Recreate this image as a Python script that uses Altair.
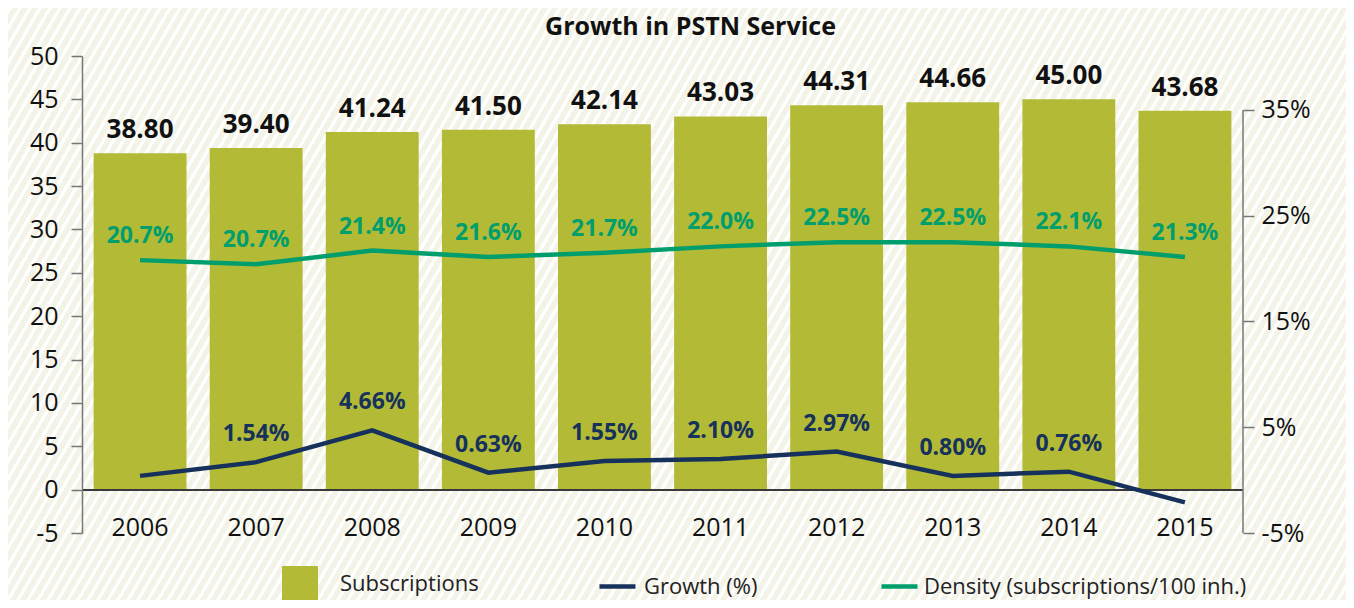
import math
import altair as alt
import pandas as pd

# ---------------- data ----------------
years = ["2006", "2007", "2008", "2009", "2010", "2011", "2012", "2013", "2014", "2015"]
subscriptions = [38.80, 39.40, 41.24, 41.50, 42.14, 43.03, 44.31, 44.66, 45.00, 43.68]
growth_line = [0.4, 1.7, 4.7, 0.7, 1.8, 2.0, 2.7, 0.4, 0.8, -2.1]
growth_labels = [None, 1.54, 4.66, 0.63, 1.55, 2.10, 2.97, 0.80, 0.76, None]
density_line = [20.8, 20.4, 21.7, 21.1, 21.5, 22.1, 22.5, 22.5, 22.1, 21.1]
density_labels = [20.7, 20.7, 21.4, 21.6, 21.7, 22.0, 22.5, 22.5, 22.1, 21.3]
left_ticks = [-5, 0, 5, 10, 15, 20, 25, 30, 35, 40, 45, 50]
right_ticks = [-5, 5, 15, 25, 35]

S_SUB = "Subscriptions"
S_GR = "Growth (%)"
S_DE = "Density (subscriptions/100 inh.)"

# ---------------- styling ----------------
FONT = "Open Sans"
BAR = "#b3ba36"
NAVY = "#16325c"
TEAL = "#009e6d"
AXIS = "#777777"
INK = "#111111"
BG = "#f3f3e8"
STRIPE = "#ffffff"

W, H = 1161, 477
PAD_L, PAD_T, PAD_R, PAD_B = 74, 48, 103, 67
CW, CH = W + PAD_L + PAD_R, H + PAD_T + PAD_B

df = pd.DataFrame({
    "year": years,
    "subs": subscriptions,
    "growth": growth_line,
    "density": density_line,
    "gl": [None if v is None else f"{v:.2f}%" for v in growth_labels],
    "dl": [f"{v:.1f}%" for v in density_labels],
    "s_sub": S_SUB,
    "s_gr": S_GR,
    "s_de": S_DE,
})

# ---------------- diagonal striped background (gradient) ----------------
ratio = math.tan(math.radians(60)) * CW / CH
k = (ratio + 1) / (ratio ** 2 + 1)
gp, gq = ratio * k, k
t_per_px = gp / (gp * gp + gq * gq) / CW
period = 10 * t_per_px
stops = []
o = 0.0
while o < 1.0:
    a = o
    b = min(o + 0.38 * period, 1.0)
    c = min(o + period, 1.0)
    stops += [
        alt.GradientStop(color=STRIPE, offset=a),
        alt.GradientStop(color=STRIPE, offset=b),
        alt.GradientStop(color=BG, offset=b),
        alt.GradientStop(color=BG, offset=c),
    ]
    o += period

bg = alt.Chart(pd.DataFrame({"k": [0]})).mark_rect(
    fill=alt.Gradient(gradient="linear", stops=stops, x1=0, y1=0, x2=gp, y2=gq),
    strokeWidth=0,
).encode(
    x=alt.value(-PAD_L), x2=alt.value(W + PAD_R),
    y=alt.value(-PAD_T), y2=alt.value(H + PAD_B),
)

# ---------------- scales / axes ----------------
x_enc = alt.X(
    "year:N",
    sort=years,
    scale=alt.Scale(paddingInner=0.2, paddingOuter=0.1),
    axis=alt.Axis(
        orient="bottom", domain=False, ticks=False, tickSize=0, labelAngle=0,
        labelFontSize=25, labelBaseline="middle", labelPadding=0, offset=-6,
        labelColor=INK, title=None, zindex=2,
    ),
    title=None,
)

yl_scale = alt.Scale(domain=[-5, 50], nice=False, zero=True)
yl_axis = alt.Axis(
    values=left_ticks, labelExpr="'' + datum.value",
    domainColor=AXIS, domainWidth=1.5, tickColor=AXIS,
    tickWidth=1.5, tickSize=11, labelFontSize=25, labelPadding=13,
    grid=False, title=None, labelColor=INK, zindex=2,
)
yr_scale = alt.Scale(domain=[-5, 40.1], nice=False, zero=False)
yr_axis = alt.Axis(
    orient="right", values=right_ticks, labelExpr="datum.value + '%'",
    domain=False, tickColor=AXIS, tickWidth=1.5, tickSize=11,
    labelFontSize=25, labelPadding=7, grid=False, title=None, labelColor=INK,
    zindex=2,
)

base = alt.Chart(df)

bars = base.mark_bar().encode(
    x=x_enc,
    y=alt.Y("subs:Q", scale=yl_scale, axis=yl_axis),
    fill=alt.Fill(
        "s_sub:N",
        scale=alt.Scale(domain=[S_SUB], range=[BAR]),
        legend=alt.Legend(
            title=None, orient="none", legendX=200, legendY=510,
            symbolType="square", symbolSize=1296, symbolStrokeWidth=0,
            labelFontSize=22, labelOffset=22, labelColor="#222222",
            labelLimit=600, padding=0, zindex=2,
        ),
    ),
)

bar_text = base.mark_text(
    baseline="bottom", dy=-10, fontSize=26, fontWeight="bold", color=INK
).encode(
    x=x_enc,
    y=alt.Y("subs:Q", scale=yl_scale, axis=yl_axis),
    text=alt.Text("subs:Q", format=".2f"),
)

zero_rule = base.mark_rule(color="#3a3a3a", strokeWidth=1.5).encode(
    y=alt.YDatum(0, scale=yl_scale, axis=yl_axis),
)

g_line = base.mark_line(strokeWidth=4.5, strokeJoin="miter").encode(
    x=x_enc,
    y=alt.Y("growth:Q", scale=yr_scale, axis=yr_axis),
    stroke=alt.Stroke(
        "s_gr:N",
        scale=alt.Scale(domain=[S_GR], range=[NAVY]),
        legend=alt.Legend(
            title=None, orient="none", legendX=515, legendY=510,
            symbolType="stroke", symbolSize=1296, symbolStrokeWidth=4.5,
            labelFontSize=22, labelOffset=6, labelColor="#222222",
            labelLimit=600, padding=0, zindex=2,
        ),
    ),
)

d_line = base.mark_line(strokeWidth=4.5).encode(
    x=x_enc,
    y=alt.Y("density:Q", scale=yr_scale, axis=yr_axis),
    color=alt.Color(
        "s_de:N",
        scale=alt.Scale(domain=[S_DE], range=[TEAL]),
        legend=alt.Legend(
            title=None, orient="none", legendX=797, legendY=510,
            symbolType="stroke", symbolSize=1296, symbolStrokeWidth=4.5,
            labelFontSize=22, labelOffset=4, labelColor="#222222",
            labelLimit=600, padding=0, zindex=2,
        ),
    ),
)

g_text = base.transform_filter("isValid(datum.gl)").mark_text(
    baseline="middle", dy=-28, fontSize=23, fontWeight="bold", color=NAVY
).encode(
    x=x_enc,
    y=alt.Y("growth:Q", scale=yr_scale, axis=yr_axis),
    text="gl:N",
)

d_text = base.mark_text(
    baseline="middle", dy=-24, fontSize=23, fontWeight="bold", color=TEAL
).encode(
    x=x_enc,
    y=alt.Y("density:Q", scale=yr_scale, axis=yr_axis),
    text="dl:N",
)

r_rule = alt.Chart(pd.DataFrame({"k": [0]})).mark_rule(
    color=AXIS, strokeWidth=1.5
).encode(
    x=alt.value(W),
    y=alt.YDatum(-5, scale=yr_scale, axis=yr_axis),
    y2=alt.Y2Datum(35),
)

left = alt.layer(bg, bars, bar_text, zero_rule)
right = alt.layer(g_line, d_line, g_text, d_text, r_rule)

chart = alt.layer(left, right).resolve_scale(
    y="independent", fill="independent", stroke="independent", color="independent"
).properties(
    width=W,
    height=H,
    padding={"left": PAD_L, "top": PAD_T, "right": PAD_R, "bottom": PAD_B},
    autosize=alt.AutoSizeParams(type="none"),
    title=alt.TitleParams(
        "Growth in PSTN Service", fontSize=25, fontWeight="bold",
        anchor="middle", frame="group", offset=-44, baseline="middle",
        dx=28, color=INK, zindex=2,
    ),
).configure(font=FONT).configure_view(stroke=None)

chart.save("out.html", embed_options={"renderer": "svg", "actions": False})
